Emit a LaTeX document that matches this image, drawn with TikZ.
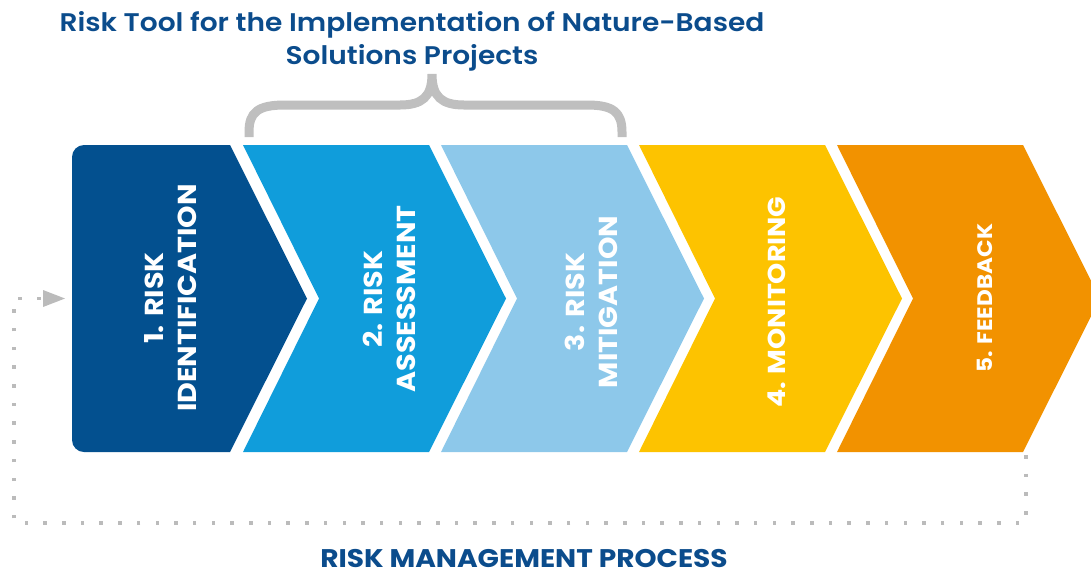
\documentclass[tikz,border=0pt]{standalone}
\usepackage{fontspec}
\setmainfont{Poppins}[FakeStretch=1.1]
\newfontfamily\headfont{Poppins}[UprightFont={* SemiBold}, FakeStretch=1.1]
\usetikzlibrary{arrows.meta}

\definecolor{riskblue}{HTML}{03508F}
\definecolor{assessblue}{HTML}{109DDB}
\definecolor{mitigblue}{HTML}{8DC8EA}
\definecolor{monityellow}{HTML}{FDC300}
\definecolor{feedorange}{HTML}{F29200}
\definecolor{headblue}{HTML}{0B4C8C}
\definecolor{bracegray}{HTML}{BFBFBF}
\definecolor{dotgray}{HTML}{BBBBBB}

\tikzset{
  steplabel/.style={text=white, font=\bfseries\fontsize{26}{33}\selectfont, rotate=90, align=center},
  heading/.style={text=headblue, align=center},
  loopline/.style={draw=dotgray, line width=3.5pt, dash pattern=on 3.5pt off 15.2pt},
}

\begin{document}
\begin{tikzpicture}[x=1pt, y=-1pt, >={Triangle[length=22pt, width=17pt, line width=0pt]}]

  \useasboundingbox (0,0) rectangle (1091,574);

  % Title and brace
  \node[heading, font=\headfont\fontsize{25.5}{33}\selectfont] (title) at (412,41)
    {Risk Tool for the Implementation of Nature-Based\\Solutions Projects};
  \draw[bracegray, line width=9pt] (249,137) -- (249,132)
    .. controls (249,112) and (258,105) .. (285,105) -- (400,105)
    .. controls (422,105) and (432,97) .. (432,74)
    .. controls (432,97) and (442,105) .. (464,105) -- (587,105)
    .. controls (613,105) and (622,112) .. (622,132) -- (622,137);

  % Chevrons
  \fill[riskblue] (307,298.5) -- (230,452) [rounded corners=12] -- (72,452) -- (72,145)
    [sharp corners] -- (230,145) -- cycle;
  \fill[assessblue] (243,145) -- (429,145) -- (506,298.5) -- (429,452) -- (243,452) -- (319,298.5) -- cycle;
  \fill[mitigblue] (441,145) -- (627,145) -- (704,298.5) -- (627,452) -- (441,452) -- (517,298.5) -- cycle;
  \fill[monityellow] (639,145) -- (825,145) -- (902,298.5) -- (825,452) -- (639,452) -- (715,298.5) -- cycle;
  \fill[feedorange] (837,145) -- (1023,145) -- (1100,298.5) -- (1023,452) -- (837,452) -- (913,298.5) -- cycle;

  % Step labels
  \node[steplabel] (ident) at (171,298) {1. RISK\\IDENTIFICATION};
  \node[steplabel] (assess) at (389,299) {2. RISK\\ASSESSMENT};
  \node[steplabel] (mitig) at (591,302) {3. RISK\\MITIGATION};
  \node[steplabel, font=\bfseries\fontsize{24.5}{30}\selectfont] (monit) at (777,302) {4. MONITORING};
  \node[steplabel, font=\bfseries\fontsize{21}{27}\selectfont] (feed) at (985,298) {5. FEEDBACK};

  % Feedback loop back to the first step
  \coordinate (loopout) at (1026,455);
  \coordinate (loopin) at (65,298.5);
  \draw[loopline, ->] (loopout) -- ++(0,68) -| (14,298.5) -- (loopin);

  \node[heading, font=\bfseries\fontsize{25.5}{30}\selectfont, anchor=base, inner sep=0pt] (process) at (524,567)
    {RISK MANAGEMENT PROCESS};

\end{tikzpicture}
\end{document}
